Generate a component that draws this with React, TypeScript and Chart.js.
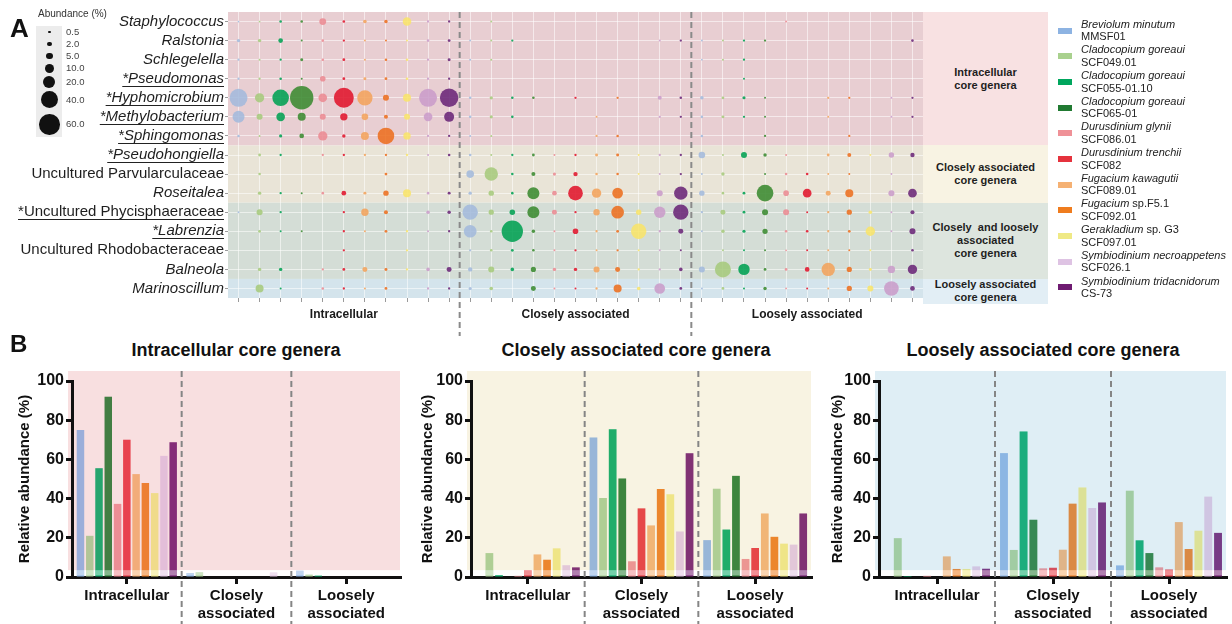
import React, { useEffect, useRef } from 'react';
import { Chart, registerables } from 'chart.js';

Chart.register(...registerables);

const FONT = "'Liberation Sans', Arial, Helvetica, sans-serif";

// ---------------- Panel A data ----------------
const genera = [
  'Staphylococcus', 'Ralstonia', 'Schlegelella', '*Pseudomonas', '*Hyphomicrobium',
  '*Methylobacterium', '*Sphingomonas', '*Pseudohongiella', 'Uncultured Parvularculaceae',
  'Roseitalea', '*Uncultured Phycisphaeraceae', '*Labrenzia', 'Uncultured Rhodobacteraceae',
  'Balneola', 'Marinoscillum',
];
const italicRows = [true, true, true, true, true, true, true, true, false, true, false, true, false, true, true];
const sampleGroups = ['Intracellular', 'Closely associated', 'Loosely associated'];

const speciesNames = [
  'Breviolum minutum', 'Cladocopium goreaui', 'Cladocopium goreaui', 'Cladocopium goreaui',
  'Durusdinium glynii', 'Durusdinium trenchii', 'Fugacium kawagutii', 'Fugacium', 'Gerakladium',
  'Symbiodinium necroappetens', 'Symbiodinium tridacnidorum',
];
const speciesSuffix = ['', '', '', '', '', '', '', ' sp.F5.1', ' sp. G3', '', ''];
const strainNames = [
  'MMSF01', 'SCF049.01', 'SCF055-01.10', 'SCF065-01', 'SCF086.01', 'SCF082',
  'SCF089.01', 'SCF092.01', 'SCF097.01', 'SCF026.1', 'CS-73',
];
const speciesColors = [
  '#8db3e2', '#a9d18e', '#00a65d', '#217a32', '#ef9197', '#e5323d',
  '#f5b173', '#ef7c1e', '#efe985', '#dec3e3', '#6e1b71',
];
const bubbleColors = [
  '#a3b9dc', '#a6c97c', '#00a052', '#3a8a30', '#ea8a92', '#e0152b',
  '#f2a35c', '#ec6e1f', '#f8e46a', '#c99cc9', '#6a2678',
];
const barColors = [
  '#8cb3e4', '#a7cf94', '#00a864', '#227a30', '#ee8d92', '#e7333d',
  '#f4b172', '#ee7b1d', '#f1e985', '#e2c6e3', '#71196f',
];

// abundance (%) per genus row, columns = the 11 strains
const bubbleIntracellular = [
  [0.05, 0.05, 0.3, 0.3, 5.0, 0.3, 0.9, 0.8, 8.5, 0.2, 0.2],
  [0.8, 0.8, 1.9, 0.1, 0.3, 0.2, 0.1, 0.1, 0.1, 0.3, 0.4],
  [0.2, 0.1, 0.2, 0.5, 0.3, 0.4, 0.1, 0.3, 0.3, 0.2, 0.5],
  [0.2, 0.2, 0.3, 0.1, 3.1, 0.4, 0.5, 0.4, 0.3, 0.2, 0.2],
  [45, 10.5, 38, 79, 8.9, 56, 32, 3.7, 7.4, 45, 48],
  [18.7, 3.7, 8.9, 7.4, 3.7, 6.1, 4.7, 1.25, 3.7, 8.9, 12.4],
  [0.3, 0.1, 0.6, 1.9, 10.6, 0.8, 7.4, 38, 6.1, 0.2, 0.2],
  [0, 0.4, 0.2, 0, 0.2, 0.2, 0.2, 0.2, 0.2, 0.1, 0.3],
  [0, 0.3, 0, 0, 0, 0, 0, 0.4, 0, 0, 0],
  [0, 0.8, 0.2, 0.1, 0.3, 1.9, 0.5, 2.8, 7.4, 0.3, 0.5],
  [0.1, 3.7, 0.2, 0, 0, 0.2, 6.1, 1.25, 0, 0.8, 0.8],
  [0, 0.4, 0.1, 0.1, 0, 0.2, 0.1, 0.4, 0.2, 0.1, 0.2],
  [0, 0, 0, 0, 0, 0.2, 0, 0, 0.2, 0, 0],
  [0, 0.8, 0.8, 0, 0.2, 0.4, 2.3, 0.5, 0.2, 0.9, 2.3],
  [0, 7.4, 0.1, 0, 0.3, 0.2, 0.1, 0.4, 0, 0.2, 0.2],
];
const bubbleClosely = [
  [0, 0.1, 0, 0, 0, 0, 0, 0, 0, 0, 0],
  [0.1, 0.1, 0.2, 0, 0, 0, 0, 0, 0, 0.1, 0.2],
  [0.1, 0.1, 0, 0, 0, 0, 0, 0, 0, 0, 0],
  [0, 0, 0, 0, 0, 0, 0, 0, 0, 0, 0],
  [0.3, 0.7, 0.3, 0.3, 0, 0.2, 0, 0.2, 0, 1.3, 0.3],
  [0.3, 0.6, 0.3, 0, 0, 0, 0.1, 0, 0, 0.2, 0.2],
  [0.1, 0.1, 0, 0, 0, 0, 0.2, 0.3, 0, 0, 0],
  [0.3, 0.1, 0.2, 0.4, 0.1, 0.2, 0.5, 0.5, 0.1, 0.2, 0.2],
  [6.6, 24, 0.3, 1.25, 0.6, 1.6, 0.3, 0.3, 0.1, 0.1, 0.2],
  [0.8, 2.8, 0.3, 18.7, 1.9, 29, 10.6, 14.3, 0, 3.7, 23.8],
  [32, 2.6, 3.0, 18.7, 2.3, 0.2, 4.3, 21, 2.8, 16.6, 32],
  [21, 0.3, 65, 0.8, 0.1, 3.1, 0.2, 0.4, 32, 0.2, 2.3],
  [0.2, 0.3, 0.4, 0.3, 0.1, 0.2, 0.1, 0.2, 0.1, 0.1, 0.1],
  [1.6, 3.7, 0.9, 2.5, 0.8, 0.8, 3.7, 2.3, 0.2, 0.2, 0.9],
  [0.6, 0.9, 0, 2.3, 0.1, 0.1, 0.2, 7.4, 0.9, 14.3, 0.4],
];
const bubbleLoosely = [
  [0, 0, 0, 0, 0.1, 0, 0, 0, 0, 0, 0],
  [0.1, 0.1, 0.2, 0.2, 0, 0, 0, 0, 0, 0, 0.3],
  [0.05, 0.1, 0.2, 0, 0, 0, 0, 0, 0, 0, 0],
  [0, 0, 0.1, 0, 0, 0, 0, 0, 0, 0, 0],
  [0.9, 0.4, 0.6, 0.1, 0, 0, 0.2, 0.2, 0, 0.1, 0.2],
  [0.3, 0.5, 0.2, 0.1, 0, 0, 0.1, 0, 0, 0.1, 0.2],
  [0.3, 0, 0, 0.2, 0, 0, 0, 0.2, 0, 0, 0],
  [4.7, 0.1, 3.7, 0.8, 0.1, 0, 0.4, 1.2, 0.1, 2.8, 1.6],
  [0.1, 0.8, 0, 0.1, 0.3, 0.3, 0.1, 0.1, 0, 0.1, 0],
  [2.8, 0.3, 0.4, 38, 3.1, 8.9, 2.3, 7.4, 0, 3.7, 8.9],
  [0.2, 2.3, 0.4, 3.7, 3.7, 0.1, 0.2, 2.6, 0.9, 0.1, 1.3],
  [0.1, 0.8, 0.6, 2.6, 0.3, 0.3, 0.2, 0.4, 10.6, 0.1, 3.7],
  [0, 0.1, 0.1, 0.1, 0.05, 0.1, 0.1, 0.1, 0.1, 0, 0.3],
  [3.7, 35, 16.6, 0.4, 0.4, 1.9, 23.8, 2.6, 0.5, 6.1, 10.6],
  [0.1, 0.4, 0.1, 0.8, 0.05, 0.1, 0.1, 2.6, 3.7, 29, 2.0],
];

const bandLabels = [
  ['Intracellular', 'core genera'],
  ['Closely associated', 'core genera'],
  ['Closely  and loosely', 'associated', 'core genera'],
  ['Loosely associated', 'core genera'],
];
const bandFirstRow = [0, 7, 10, 14];
const bandLastRow = [6, 9, 13, 14];
const bandPlotColors = ['#e8ced2', '#e9e4d7', '#d4ddd6', '#d4e4ec'];
const bandLabelColors = ['#f8e1e2', '#f8f3e3', '#dde5de', '#e2eef5'];

const sizeLegendValues = [0.5, 2, 5, 10, 20, 40, 60];
const sizeLegendLabels = ['0.5', '2.0', '5.0', '10.0', '20.0', '40.0', '60.0'];

// ---------------- Panel B data ----------------
const barGroupLabels = [['Intracellular'], ['Closely', 'associated'], ['Loosely', 'associated']];
const barTitles = ['Intracellular core genera', 'Closely associated core genera', 'Loosely associated core genera'];
// per strain: [Intracellular, Closely associated, Loosely associated]
const intracellularCore = [
  [75, 2.0, 3.2], [21, 2.4, 1.2], [55.5, 0, 0.7], [92, 0, 0], [37.3, 0, 0], [70, 0, 0],
  [52.5, 0, 0], [48, 0, 0], [42.8, 0, 0], [61.8, 2.3, 0], [68.8, 0, 0],
];
const closelyCore = [
  [0, 71.2, 18.8], [12.2, 40.3, 45], [1.0, 75.4, 24.2], [0, 50.2, 51.6], [0.6, 8, 9.2], [3.4, 35, 14.8],
  [11.5, 26.3, 32.4], [8.8, 44.9, 20.5], [14.6, 42.2, 17], [6, 23.2, 16.5], [4.9, 63.1, 32.4],
];
const looselyCore = [
  [0, 63.2, 5.9], [19.8, 13.8, 44], [0.5, 74.2, 18.7], [0, 29.2, 12.2], [0.6, 4.4, 4.9], [0, 4.7, 3.8],
  [10.5, 13.9, 28], [4.1, 37.4, 14.3], [4.1, 45.6, 23.6], [5.4, 35.2, 41], [4.2, 38, 22.5],
];

// ---------------- helpers ----------------
const bubbleRadius = (v: number) => (v > 0 ? 0.6 + 1.25 * Math.sqrt(v) : 0);
function hexA(hex: string, a: number) {
  const n = parseInt(hex.slice(1), 16);
  return `rgba(${(n >> 16) & 255},${(n >> 8) & 255},${n & 255},${a})`;
}

const PLOT_TOP = 12;
const PLOT_BOTTOM = 298;
const ROW_H = (PLOT_BOTTOM - PLOT_TOP) / genera.length;

function BubblePanel() {
  const ref = useRef<HTMLCanvasElement>(null);
  useEffect(() => {
    const canvas = ref.current as HTMLCanvasElement;
    const matrices = [bubbleIntracellular, bubbleClosely, bubbleLoosely];
    const nS = speciesColors.length;
    const nCols = matrices.length * nS;
    const datasets = speciesColors.map((_, s) => ({
      label: strainNames[s],
      data: matrices
        .flatMap((m, g) => m.map((row, r) => ({ x: g * nS + s, y: r, r: bubbleRadius(row[s]), v: row[s] })))
        .filter((p) => p.v > 0),
      backgroundColor: hexA(bubbleColors[s], 0.88),
      borderWidth: 0,
      hoverRadius: 0,
    }));
    const centerLabels: Record<number, string> = {};
    sampleGroups.forEach((g, i) => { centerLabels[i * nS + (nS - 1) / 2] = g; });
    const tickLen = 3;
    const tickPad = 1;

    const deco = {
      id: 'bubbleDeco',
      beforeDraw(chart: any) {
        const { ctx, chartArea: a, scales } = chart;
        const y = scales.y;
        ctx.save();
        bandPlotColors.forEach((c, b) => {
          const y0 = y.getPixelForValue(bandFirstRow[b] - 0.5);
          const y1 = y.getPixelForValue(bandLastRow[b] + 0.5);
          ctx.fillStyle = c;
          ctx.fillRect(a.left, y0, a.right - a.left, y1 - y0);
        });
        ctx.restore();
      },
      afterDraw(chart: any) {
        const { ctx, chartArea: a, scales } = chart;
        const x = scales.x;
        const y = scales.y;
        ctx.save();
        ctx.strokeStyle = '#8a8a8a';
        ctx.lineWidth = 2;
        ctx.setLineDash([6, 4]);
        for (let g = 1; g < matrices.length; g++) {
          const px = x.getPixelForValue(g * nS - 0.5);
          ctx.beginPath();
          ctx.moveTo(px, a.top);
          ctx.lineTo(px, chart.height - 4);
          ctx.stroke();
        }
        ctx.setLineDash([]);
        ctx.strokeStyle = '#222';
        ctx.lineWidth = 1;
        genera.forEach((name, r) => {
          if (!name.startsWith('*')) return;
          ctx.font = `${italicRows[r] ? 'italic ' : ''}15px ${FONT}`;
          const w = ctx.measureText(name).width;
          const xr = a.left - tickLen - tickPad;
          const py = Math.round(y.getPixelForValue(r) + 7) + 0.5;
          ctx.beginPath();
          ctx.moveTo(xr - w, py);
          ctx.lineTo(xr, py);
          ctx.stroke();
        });
        ctx.restore();
      },
    };

    const chart = new Chart(canvas, {
      type: 'bubble',
      data: { datasets } as any,
      options: {
        responsive: false,
        animation: false,
        events: [],
        layout: { autoPadding: false, padding: { top: PLOT_TOP, right: 2, left: 0, bottom: 0 } },
        plugins: { legend: { display: false }, tooltip: { enabled: false } },
        scales: {
          x: {
            type: 'linear',
            min: -0.5,
            max: nCols - 0.5,
            afterBuildTicks: (s: any) => { s.ticks = Array.from({ length: nCols }, (_, i) => ({ value: i })); },
            afterFit: (s: any) => { s.height = 340 - PLOT_BOTTOM; },
            ticks: {
              autoSkip: false, maxRotation: 0, minRotation: 0, padding: 5,
              callback: (v: any) => centerLabels[v] ?? '',
              font: { family: FONT, size: 12, weight: 'bold' }, color: '#1a1a1a',
            },
            grid: { color: 'rgba(255,255,255,0.55)', lineWidth: 1, tickColor: '#9a9a9a', tickLength: 4 },
            border: { display: false },
          },
          y: {
            type: 'linear',
            reverse: true,
            min: -0.5,
            max: genera.length - 0.5,
            afterBuildTicks: (s: any) => { s.ticks = genera.map((_, i) => ({ value: i })); },
            afterFit: (s: any) => { s.width = 228; },
            ticks: {
              autoSkip: false, padding: tickPad, color: '#1e1e1e',
              callback: (v: any) => genera[v] ?? '',
              font: (ctx: any) => ({
                family: FONT, size: 15,
                style: ctx.tick && italicRows[ctx.tick.value] ? 'italic' : 'normal',
              }),
            },
            grid: { color: 'rgba(255,255,255,0.55)', lineWidth: 1, tickColor: '#9a9a9a', tickLength: tickLen },
            border: { display: false },
          },
        },
      } as any,
      plugins: [deco],
    });
    return () => chart.destroy();
  }, []);
  return <canvas ref={ref} width={925} height={340} style={{ position: 'absolute', left: 0, top: 0 }} />;
}

type BarProps = {
  values: number[][];
  left: number;
  width: number;
  yWidth: number;
  padRight: number;
  titlePad: number;
  bg: string;
  tint: string;
};

const BAR_TOP = 362;
const BAR_H = 262;

function BarPanel({ values, left, width, yWidth, padRight, titlePad, bg, tint }: BarProps) {
  const ref = useRef<HTMLCanvasElement>(null);
  useEffect(() => {
    const canvas = ref.current as HTMLCanvasElement;
    const datasets = values.map((vals, s) => ({
      label: strainNames[s],
      data: vals,
      backgroundColor: barColors[s],
      borderWidth: 0,
      categoryPercentage: 0.93,
      barPercentage: 0.8,
    }));
    const deco = {
      id: 'barDeco',
      beforeDraw(chart: any) {
        const { ctx, chartArea: a, scales } = chart;
        const y35 = scales.y.getPixelForValue(3.5);
        ctx.save();
        ctx.fillStyle = bg;
        ctx.fillRect(a.left - 4, a.top - 10, a.right - a.left + 3, y35 - (a.top - 10));
        ctx.restore();
      },
      afterDatasetsDraw(chart: any) {
        const { ctx, chartArea: a, scales } = chart;
        const y35 = scales.y.getPixelForValue(3.5);
        ctx.save();
        chart.data.datasets.forEach((_: any, i: number) => {
          chart.getDatasetMeta(i).data.forEach((el: any) => {
            const l = el.x - el.width / 2;
            const w = el.width;
            const top = el.y;
            const base = el.base;
            if (top < y35) {
              ctx.fillStyle = tint;
              ctx.fillRect(l, top, w, y35 - top);
            }
            const ws = Math.max(top, y35);
            const we = base - 1;
            if (we > ws) {
              ctx.fillStyle = 'rgba(255,255,255,0.45)';
              ctx.fillRect(l, ws, w, we - ws);
            }
          });
        });
        const x = scales.x;
        ctx.strokeStyle = '#858585';
        ctx.lineWidth = 2;
        ctx.setLineDash([6, 4]);
        for (let k = 1; k < barGroupLabels.length; k++) {
          const px = (x.getPixelForValue(k - 1) + x.getPixelForValue(k)) / 2;
          ctx.beginPath();
          ctx.moveTo(px, a.top - 10);
          ctx.lineTo(px, chart.height);
          ctx.stroke();
        }
        ctx.restore();
      },
    };
    const chart = new Chart(canvas, {
      type: 'bar',
      data: { labels: barGroupLabels, datasets } as any,
      options: {
        responsive: false,
        animation: false,
        events: [],
        layout: { autoPadding: false, padding: { top: 19, right: padRight, left: 0, bottom: 0 } },
        plugins: { legend: { display: false }, tooltip: { enabled: false } },
        scales: {
          x: {
            z: 1,
            afterFit: (s: any) => { s.height = 47; },
            ticks: { font: { family: FONT, size: 15, weight: 'bold' }, color: '#111', padding: 3, maxRotation: 0 },
            grid: { offset: false, drawOnChartArea: false, tickLength: 7, tickWidth: 3, tickColor: '#111' },
            border: { display: true, width: 3, color: '#111' },
          },
          y: {
            z: 1,
            min: 0,
            max: 100,
            afterFit: (s: any) => { s.width = yWidth; },
            ticks: { stepSize: 20, font: { family: FONT, size: 16, weight: 'bold' }, color: '#111', padding: 2 },
            grid: { drawOnChartArea: false, tickLength: 6, tickWidth: 3, tickColor: '#111' },
            border: { display: true, width: 3, color: '#111' },
            title: {
              display: true,
              text: 'Relative abundance (%)',
              font: { family: FONT, size: 15, weight: 'bold' },
              color: '#111',
              padding: { top: titlePad, bottom: 0 },
            },
          },
        },
      } as any,
      plugins: [deco],
    });
    return () => chart.destroy();
  }, []);
  return (
    <canvas ref={ref} width={width} height={BAR_H} style={{ position: 'absolute', left, top: BAR_TOP }} />
  );
}

function SizeLegend() {
  const ys = [32, 44, 56, 68.3, 81.7, 100, 124.3];
  return (
    <>
      <div style={{ position: 'absolute', left: 38, top: 8, fontSize: 10, lineHeight: '12px', color: '#333', whiteSpace: 'nowrap' }}>
        Abundance (%)
      </div>
      <div style={{ position: 'absolute', left: 36, top: 26, width: 26, height: 111, background: '#ececec' }} />
      {sizeLegendValues.map((v, i) => {
        const r = bubbleRadius(v);
        return (
          <React.Fragment key={i}>
            <div style={{
              position: 'absolute', left: 49.3 - r, top: ys[i] - r, width: 2 * r, height: 2 * r,
              borderRadius: '50%', background: '#111',
            }} />
            <div style={{ position: 'absolute', left: 66, top: ys[i] - 6, fontSize: 9.5, lineHeight: '12px', color: '#444' }}>
              {sizeLegendLabels[i]}
            </div>
          </React.Fragment>
        );
      })}
    </>
  );
}

function BandLabels() {
  return (
    <>
      {bandLabels.map((lines, b) => {
        const top = PLOT_TOP + bandFirstRow[b] * ROW_H;
        const bottom = b === bandLabels.length - 1 ? 304 : PLOT_TOP + (bandLastRow[b] + 1) * ROW_H;
        return (
          <div key={b} style={{
            position: 'absolute', left: 923, top, width: 125, height: bottom - top,
            background: bandLabelColors[b], display: 'flex', alignItems: 'center', justifyContent: 'center',
          }}>
            <div style={{ fontSize: 11, fontWeight: 'bold', lineHeight: '13px', textAlign: 'center', color: '#1e1e1e', whiteSpace: 'pre' }}>
              {lines.join('\n')}
            </div>
          </div>
        );
      })}
    </>
  );
}

function SpeciesLegend() {
  const step = 25.67;
  return (
    <>
      {speciesNames.map((n, i) => (
        <React.Fragment key={i}>
          <div style={{ position: 'absolute', left: 1058, top: 30.5 + step * i - 3, width: 14, height: 6, background: speciesColors[i] }} />
          <div style={{ position: 'absolute', left: 1081, top: 24.3 + step * i - 6.5, fontSize: 11, lineHeight: '13px', color: '#222', whiteSpace: 'nowrap' }}>
            <i>{n}</i>{speciesSuffix[i]}
          </div>
          <div style={{ position: 'absolute', left: 1081, top: 36.7 + step * i - 6.5, fontSize: 11, lineHeight: '13px', color: '#222', whiteSpace: 'nowrap' }}>
            {strainNames[i]}
          </div>
        </React.Fragment>
      ))}
    </>
  );
}

export default function App() {
  const titleCenters = [236, 636, 1043];
  return (
    <div style={{ position: 'absolute', left: 0, top: 0, width: 1232, height: 624, background: '#fff', fontFamily: FONT, overflow: 'hidden' }}>
      <BubblePanel />
      <div style={{ position: 'absolute', left: 10, top: 14.6, fontSize: 26, fontWeight: 'bold', lineHeight: '26px', color: '#111' }}>A</div>
      <SizeLegend />
      <BandLabels />
      <SpeciesLegend />
      <div style={{ position: 'absolute', left: 10, top: 332, fontSize: 24, fontWeight: 'bold', lineHeight: '24px', color: '#111' }}>B</div>
      {barTitles.map((t, i) => (
        <div key={i} style={{
          position: 'absolute', left: titleCenters[i] - 200, top: 340, width: 400, textAlign: 'center',
          fontSize: 18, fontWeight: 'bold', lineHeight: '20px', color: '#111',
        }}>{t}</div>
      ))}
      <BarPanel values={intracellularCore} left={0} width={410} yWidth={72} padRight={9} titlePad={16}
        bg="#f8dfe0" tint="rgba(235,150,165,0.16)" />
      <BarPanel values={closelyCore} left={410} width={410} yWidth={61} padRight={8} titlePad={9}
        bg="#f8f3e2" tint="rgba(225,205,150,0.14)" />
      <BarPanel values={looselyCore} left={820} width={412} yWidth={59} padRight={5} titlePad={9}
        bg="#dfeef5" tint="rgba(140,195,225,0.2)" />
    </div>
  );
}
